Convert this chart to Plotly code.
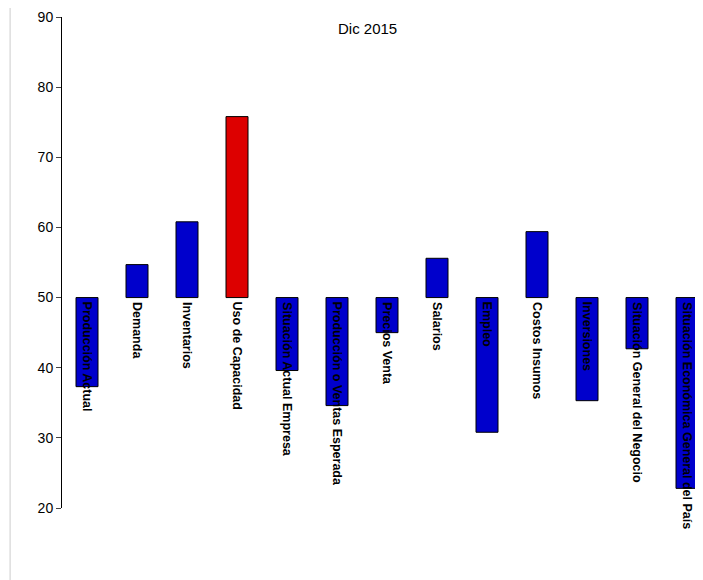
import plotly.graph_objects as go

categorias = ['Producción Actual', 'Demanda', 'Inventarios', 'Uso de Capacidad',
              'Situación Actual Empresa', 'Producción o Ventas Esperada', 'Precios Venta',
              'Salarios', 'Empleo', 'Costos Insumos', 'Inversiones',
              'Situación General del Negocio', 'Situación Económica General del País']
valores = [37.3, 54.7, 60.8, 75.8, 39.6, 34.6, 45.0, 55.6, 30.8, 59.4, 35.3, 42.7, 22.8]
base = 50
colores = ['#0000cc'] * len(valores)
colores[3] = '#dd0000'

x = list(range(len(categorias)))
fig = go.Figure(go.Bar(
    x=x, y=[v - base for v in valores], base=base, width=0.44,
    marker=dict(color=colores, line=dict(color='black', width=1)),
))

for i, c in enumerate(categorias):
    fig.add_annotation(x=i, y=base, text='<b>' + c + '</b>', textangle=90,
                       showarrow=False, xanchor='center', yanchor='top', yshift=-2,
                       font=dict(family='Arial', size=12.5, color='black'))

fig.add_annotation(x=0.47, y=0.998, xref='paper', yref='paper', text='Dic 2015',
                   showarrow=False, font=dict(family='Arial', size=15, color='black'))

fig.update_layout(
    width=703, height=580, plot_bgcolor='white', paper_bgcolor='white',
    margin=dict(l=54, r=0, t=9, b=80), showlegend=False,
    font=dict(family='Arial', size=14, color='black'),
    xaxis=dict(range=[-0.5, 12.48], showticklabels=False, showgrid=False, zeroline=False),
    yaxis=dict(range=[20, 90], dtick=10, showgrid=False, zeroline=False,
               showline=True, linecolor='black', ticks='outside', ticklen=5),
)
fig.add_shape(type='line', xref='paper', yref='paper', x0=-0.08, x1=-0.08, y0=-0.2, y1=1.05,
              line=dict(color='#cccccc', width=1))
fig.write_html('out.html')
